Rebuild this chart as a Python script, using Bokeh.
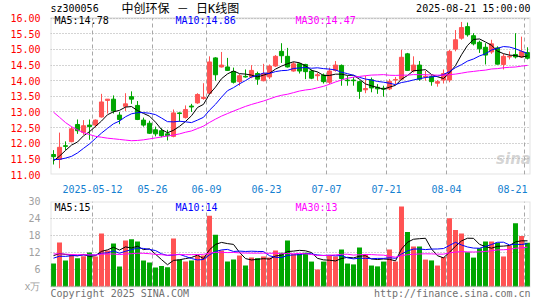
from bokeh.plotting import figure
from bokeh.layouts import column
from bokeh.models import (ColumnDataSource, FixedTicker, Label, Range1d, PrintfTickFormatter,
                          BoxAnnotation)
from bokeh.embed import file_html
from bokeh.resources import INLINE

# ---------------- data ----------------
opens = [11.64, 11.48, 11.92, 12.05, 12.60, 12.35, 12.58, 12.58, 12.84, 13.37,
         13.41, 12.90, 13.18, 13.49, 13.21, 12.74, 12.64, 12.43, 12.40, 12.30,
         12.22, 12.97, 12.82, 13.19, 13.29, 13.43, 13.60, 14.73, 14.44, 14.44,
         14.29, 13.97, 14.14, 14.12, 14.23, 14.00, 14.12, 14.47, 14.94, 14.78,
         14.31, 14.54, 14.52, 14.31, 14.16, 14.18, 13.95, 14.33, 14.49, 14.02,
         14.02, 13.97, 13.71, 14.03, 13.79, 13.76, 13.74, 14.02, 14.05, 14.86,
         14.31, 14.50, 14.12, 14.13, 13.92, 14.02, 14.02, 15.01, 15.36, 15.73,
         15.44, 15.23, 15.07, 14.92, 15.05, 14.52, 14.76, 14.84, 14.76, 14.90]
highs = [11.78, 12.34, 12.06, 12.53, 12.76, 12.74, 12.76, 12.76, 13.58, 13.41,
         13.53, 13.00, 13.60, 13.66, 13.35, 12.82, 12.72, 12.53, 12.48, 12.43,
         13.08, 12.99, 13.21, 13.26, 13.60, 13.92, 14.78, 14.75, 14.92, 14.73,
         14.42, 14.21, 14.36, 14.50, 14.29, 14.54, 14.52, 14.82, 15.20, 15.05,
         14.60, 14.57, 14.54, 14.36, 14.26, 14.23, 14.42, 14.63, 14.52, 14.16,
         14.12, 14.00, 14.16, 14.10, 13.89, 13.84, 14.05, 14.12, 14.99, 14.89,
         14.78, 14.63, 14.31, 14.18, 14.02, 14.36, 14.99, 15.62, 15.88, 15.86,
         15.52, 15.28, 15.20, 15.31, 15.10, 14.86, 14.94, 15.52, 15.41, 15.07]
lows = [11.32, 11.20, 11.78, 12.03, 12.30, 12.27, 12.11, 12.50, 12.82, 12.95,
        12.95, 12.61, 13.03, 13.26, 12.74, 12.53, 12.30, 12.22, 12.19, 12.09,
        12.19, 12.69, 12.79, 13.00, 13.26, 13.39, 13.58, 14.00, 14.42, 14.31,
        13.91, 13.84, 14.10, 14.08, 13.87, 13.98, 14.05, 14.44, 14.57, 14.42,
        14.29, 14.23, 14.05, 14.05, 14.00, 13.91, 13.89, 14.29, 13.84, 13.84,
        13.84, 13.42, 13.60, 13.63, 13.58, 13.49, 13.70, 13.89, 14.03, 14.31,
        14.26, 14.00, 14.00, 13.84, 13.81, 13.91, 13.95, 14.94, 15.31, 15.41,
        15.13, 14.89, 14.52, 14.86, 14.52, 14.36, 14.68, 14.71, 14.73, 14.68]
closes = [11.57, 11.87, 11.90, 12.46, 12.40, 12.56, 12.53, 12.74, 13.32, 13.41,
          13.03, 12.76, 13.26, 13.41, 12.76, 12.58, 12.32, 12.30, 12.24, 12.24,
          12.97, 12.95, 13.08, 13.16, 13.56, 13.47, 14.60, 14.19, 14.50, 14.33,
          13.95, 14.16, 14.12, 14.33, 14.05, 14.23, 14.47, 14.78, 14.80, 14.44,
          14.54, 14.31, 14.29, 14.08, 14.19, 13.97, 14.31, 14.50, 14.07, 14.00,
          14.00, 13.66, 13.75, 13.77, 13.74, 13.73, 13.98, 14.04, 14.75, 14.33,
          14.50, 14.05, 14.14, 13.97, 13.97, 14.23, 14.94, 15.31, 15.70, 15.47,
          15.18, 15.02, 14.82, 15.18, 14.53, 14.78, 14.78, 14.76, 14.93, 14.72]
volumes = [8.1, 15.5, 9.2, 11.2, 10.0, 10.7, 12.0, 10.6, 18.7, 12.7,
           15.2, 7.1, 16.2, 16.7, 15.9, 9.2, 8.5, 6.7, 7.2, 6.8,
           16.9, 9.5, 8.8, 9.2, 10.9, 10.9, 25.0, 18.3, 12.7, 8.8,
           9.5, 10.9, 7.4, 10.2, 10.0, 10.6, 10.2, 12.7, 11.9, 16.2,
           11.5, 11.5, 11.9, 8.8, 6.0, 8.8, 10.9, 10.6, 13.1, 8.1,
           7.8, 13.8, 11.5, 7.4, 7.1, 8.8, 13.1, 8.8, 28.2, 19.2,
           14.1, 14.1, 9.5, 9.2, 7.4, 10.4, 24.1, 19.9, 18.7, 12.1,
           10.2, 13.5, 15.9, 15.9, 15.4, 10.6, 14.5, 22.3, 17.8, 15.4]
# sessions before the first candle, estimated from where the MA lines start
prior_closes = [16.7, 17.0, 16.4, 15.4, 15.3, 14.3, 14.5, 14.2, 14.3, 13.6,
                13.4, 13.9, 14.0, 12.5, 12.0, 11.4, 11.4, 11.3, 11.3, 12.1,
                11.8, 11.5, 11.9, 11.3, 11.1, 11.1, 11.0, 11.6, 11.9]
prior_volumes = [14.2, 12.8, 15.6, 11.9, 10.4, 13.5, 12.1, 9.8, 11.6, 14.8,
                 13.2, 10.9, 12.4, 11.3, 9.6, 12.9, 13.7, 11.0, 12.5, 10.8,
                 8.6, 9.8, 8.9, 9.4, 8.8, 11.9, 10.8, 12.4, 11.3]

date_labels = ["2025-05-12", "05-26", "06-09", "06-23", "07-07", "07-21", "08-04", "08-21"]
date_index = [7, 17, 26, 36, 46, 56, 66, 79]
price_ticks = [11.0, 11.5, 12.0, 12.5, 13.0, 13.5, 14.0, 14.5, 15.0, 15.5, 16.0]
volume_ticks = [0, 6, 12, 18, 24, 30]
volume_unit = "x万"

stock_code = "sz300056"
chart_title = "中创环保 － 日K线图"
stamp = "2025-08-21 15:00:00"
price_legend = ["MA5:14.78", "MA10:14.86", "MA30:14.47"]
volume_legend = ["MA5:15", "MA10:14", "MA30:13"]
footer_left = "Copyright 2025 SINA.COM"
footer_right = "http://finance.sina.com.cn"

# ---------------- styling ----------------
RED = "#FF5353"
GREEN = "#00A600"
MA_COLORS = ["#000000", "#0000FF", "#FF00FF"]
GRID = "#A8A8A8"
BORDER = "#A0A0A0"
MONO = "DejaVu Sans Mono"
CJK = "Noto Sans CJK SC"


def moving_avg(values, prior, n):
    full = list(prior) + list(values)
    k = len(prior)
    return [sum(full[k + i - n + 1:k + i + 1]) / n for i in range(len(values))]


N = len(closes)
src = ColumnDataSource(dict(
    x=[i + 0.5 for i in range(N)],
    high=highs, low=lows,
    top=[max(o, c) for o, c in zip(opens, closes)],
    bottom=[min(o, c) for o, c in zip(opens, closes)],
    color=[RED if c >= o else GREEN for o, c in zip(opens, closes)],
    vol=volumes,
    ma5=moving_avg(closes, prior_closes, 5),
    ma10=moving_avg(closes, prior_closes, 10),
    ma30=moving_avg(closes, prior_closes, 30),
    vma5=moving_avg(volumes, prior_volumes, 5),
    vma10=moving_avg(volumes, prior_volumes, 10),
    vma30=moving_avg(volumes, prior_volumes, 30),
))


def panel_style(fig, lo, hi):
    fig.outline_line_color = None
    fig.background_fill_color = "white"
    fig.border_fill_color = "white"
    fig.xgrid.visible = False
    fig.ygrid.grid_line_color = GRID
    fig.ygrid.grid_line_dash = "1 2"
    # vertical dashed lines at the date ticks, limited to the panel box
    fig.segment(x0=date_index, y0=[lo] * len(date_index), x1=date_index,
                y1=[hi] * len(date_index), line_color=GRID, line_dash="4 3", line_width=1)
    fig.add_layout(BoxAnnotation(left=0, right=N, bottom=lo, top=hi, fill_color=None,
                                 line_color=BORDER, line_width=2))


def y_style(ax, color):
    ax.axis_line_color = None
    ax.major_tick_line_color = None
    ax.minor_tick_line_color = None
    ax.major_label_standoff = 4
    ax.major_label_text_font = MONO
    ax.major_label_text_font_size = "10px"
    ax.major_label_text_color = color


def add_text(fig, x, y, text, color="#000000", font=MONO, size="10px", align="left",
             baseline="middle", **kw):
    fig.add_layout(Label(x=x, y=y, x_units="screen", y_units="screen", text=text,
                         text_color=color, text_font=font, text_font_size=size,
                         text_align=align, text_baseline=baseline, **kw))


# ---------------- price panel ----------------
FW = 480          # plot box width
BOX_TOP = 18      # px from canvas top to the price box
BOX_H = 159       # price box height
p_lo, p_hi = price_ticks[0], price_ticks[-1]
p_top = p_hi + BOX_TOP * (p_hi - p_lo) / BOX_H
p = figure(width=545, height=195, x_range=Range1d(0, N), y_range=Range1d(p_lo, p_top),
           output_backend="svg", toolbar_location=None,
           min_border_left=50, min_border_right=15, min_border_top=0, min_border_bottom=18)
panel_style(p, p_lo, p_hi)
p.ygrid.ticker = FixedTicker(ticks=price_ticks)

label_pos = [min(i, N - 3) for i in date_index]
p.xaxis.ticker = FixedTicker(ticks=label_pos)
p.xaxis.major_label_overrides = {pos: lab for pos, lab in zip(label_pos, date_labels)}
p.xaxis.axis_line_color = None
p.xaxis.major_tick_line_color = None
p.xaxis.minor_tick_line_color = None
p.xaxis.major_label_standoff = 4
p.xaxis.major_label_text_font = MONO
p.xaxis.major_label_text_font_size = "10px"
p.xaxis.major_label_text_color = "#1580D0"

p.yaxis.ticker = FixedTicker(ticks=price_ticks)
p.yaxis.formatter = PrintfTickFormatter(format="%.2f")
y_style(p.yaxis[0], "#FF0000")

p.segment(x0="x", y0="high", x1="x", y1="low", source=src, line_color="color", line_width=1)
p.vbar(x="x", width=0.68, top="top", bottom="bottom", source=src,
       fill_color="color", line_color="color", line_width=1)
for key, col in zip(["ma5", "ma10", "ma30"], MA_COLORS):
    p.line("x", key, source=src, line_color=col, line_width=1)

FH = BOX_TOP + BOX_H
for txt, xpos, col in zip(price_legend, [4, 125, 245], MA_COLORS):
    add_text(p, xpos, FH - 22.5, txt, color=col)
add_text(p, 0, FH - 11, stock_code)
add_text(p, 71, FH - 11, chart_title, font=MONO + ", " + CJK, size="12px")
add_text(p, FW, FH - 11, stamp, align="right")
add_text(p, FW - 17, 7, "sina", color="#B0B0B0", font="DejaVu Sans", size="15px",
         align="center", baseline="bottom", text_font_style="bold italic", text_alpha=0.55)

# ---------------- volume panel ----------------
VBOX_H = 85       # volume box height
VFOOT = 14        # px below the volume box (footer)
v_lo, v_hi = volume_ticks[0], volume_ticks[-1]
v_bottom = v_lo - VFOOT * (v_hi - v_lo) / VBOX_H
v = figure(width=545, height=105, x_range=p.x_range, y_range=Range1d(v_bottom, v_hi),
           output_backend="svg", toolbar_location=None, x_axis_location=None,
           min_border_left=50, min_border_right=15, min_border_top=6, min_border_bottom=0)
panel_style(v, v_lo, v_hi)
v.ygrid.ticker = FixedTicker(ticks=volume_ticks)
v.yaxis.ticker = FixedTicker(ticks=volume_ticks)
v.yaxis.major_label_overrides = {0: volume_unit}
y_style(v.yaxis[0], "#A0A0A0")

v.vbar(x="x", width=0.83, top="vol", bottom=0, source=src, fill_color="color", line_color=None)
for key, col in zip(["vma5", "vma10", "vma30"], MA_COLORS):
    v.line("x", key, source=src, line_color=col, line_width=1)

VH = VBOX_H + VFOOT
for txt, xpos, col in zip(volume_legend, [4, 125, 245], MA_COLORS):
    add_text(v, xpos, VH - 6, txt, color=col)
add_text(v, 0, 7, footer_left, color="#707070", baseline="middle")
add_text(v, FW, 7, footer_right, color="#707070", align="right", baseline="middle")

layout = column(p, v, spacing=0)
open("out.html", "w").write(file_html(layout, INLINE))
